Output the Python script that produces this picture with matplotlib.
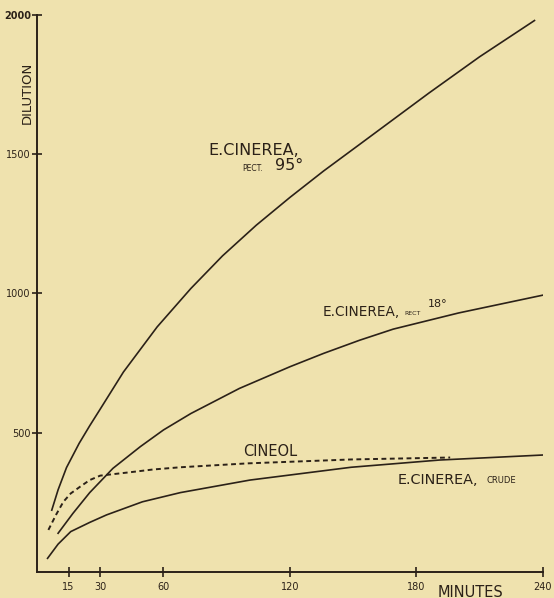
import matplotlib.pyplot as plt

# minutes / dilution
rect95_t = [7, 10, 14, 20, 25, 30, 41, 57, 73, 88, 104, 120, 136, 153, 186, 210, 236]
rect95_v = [222, 295, 375, 462, 525, 585, 718, 880, 1018, 1135, 1245, 1345, 1440,
            1535, 1720, 1850, 1980]

rect18_t = [10, 17, 25, 36, 49, 60, 73, 96, 120, 136, 153, 169, 200, 240]
rect18_v = [139, 210, 285, 372, 450, 510, 569, 659, 737, 785, 832, 872, 930, 994]

crude_t = [5, 10, 16, 25, 33, 50, 68, 101, 149, 191, 240]
crude_v = [49, 100, 145, 178, 205, 252, 285, 330, 376, 402, 420]

cineol_t = [5.4, 9, 12.5, 16, 20.4, 25, 30, 37, 44, 55, 68, 100, 149, 196]
cineol_v = [151, 205, 252, 282, 306, 330, 346, 352, 358, 368, 376, 390, 404, 411]

x_ticks = [15, 30, 60, 120, 180, 240]
y_ticks = [500, 1000, 1500, 2000]
y_labels = ["500", "1000", "1500", "2000"]

paper = "#efe2ae"
ink = "#2b2118"

fig = plt.figure(figsize=(5.54, 5.98), dpi=100, facecolor=paper)
ax = fig.add_axes([0.0668, 0.0435, 0.9132, 0.9315], facecolor=paper)

ax.plot(rect95_t, rect95_v, color=ink, lw=1.2, solid_joinstyle="round")
ax.plot(rect18_t, rect18_v, color=ink, lw=1.2, solid_joinstyle="round")
ax.plot(crude_t, crude_v, color=ink, lw=1.2, solid_joinstyle="round")
ax.plot(cineol_t, cineol_v, color=ink, lw=1.4, dashes=(2.5, 1.8))

ax.set_xlim(0, 240)
ax.set_ylim(0, 2000)
for s in ["top", "right"]:
    ax.spines[s].set_visible(False)
for s in ["left", "bottom"]:
    ax.spines[s].set_color(ink)
    ax.spines[s].set_linewidth(1.4)
ax.spines["bottom"].set_bounds(0, 240)
ax.spines["left"].set_bounds(0, 2000)

ax.set_xticks(x_ticks)
ax.set_xticklabels([str(t) for t in x_ticks])
ax.set_yticks(y_ticks)
ax.set_yticklabels(y_labels)
ax.tick_params(axis="both", direction="inout", length=7, width=1.2,
               color=ink, labelcolor=ink, labelsize=7, pad=1)
ax.tick_params(axis="x", pad=4)
ax.get_yticklabels()[-1].set_fontweight("bold")

txt = dict(color=ink, family="DejaVu Sans")
ax.text(103, 1515, "E.CINEREA,", fontsize=11.5, ha="center", va="center", **txt)
ax.text(97.5, 1450, "PECT.", fontsize=5.5, ha="left", va="center", **txt)
ax.text(113, 1458, "95°", fontsize=11.5, ha="left", va="center", **txt)
ax.text(135.5, 933, "E.CINEREA,", fontsize=9.8, ha="left", va="center", **txt)
ax.text(174.5, 928, "RECT", fontsize=4.5, ha="left", va="center", **txt)
ax.text(185.5, 962, "18°", fontsize=8, ha="left", va="center", **txt)
ax.text(110.5, 432, "CINEOL", fontsize=10.5, ha="center", va="center", **txt)
ax.text(171, 330, "E.CINEREA,", fontsize=10.4, ha="left", va="center", **txt)
ax.text(213, 327, "CRUDE", fontsize=6, ha="left", va="center", **txt)

fig.text(0.049, 0.845, "DILUTION", rotation=90, fontsize=9.5, ha="center",
         va="center", **txt)
fig.text(0.849, 0.010, "MINUTES", fontsize=10.5, ha="center", va="center", **txt)

fig.savefig("out.png", dpi=100, facecolor=paper)
